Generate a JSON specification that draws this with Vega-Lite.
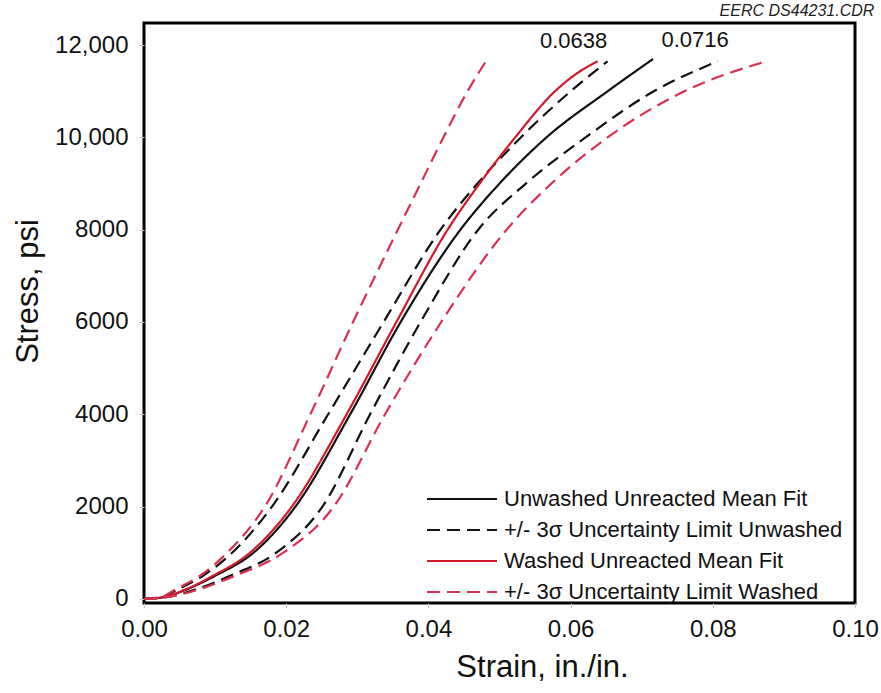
{
  "$schema": "https://vega.github.io/schema/vega-lite/v6.json",
  "autosize": {"type": "none"},
  "padding": {"left": 144, "top": 23, "right": 26, "bottom": 90},
  "width": 711,
  "height": 580,
  "background": "white",
  "title": {
    "text": "EERC DS44231.CDR",
    "anchor": "end",
    "orient": "top",
    "offset": 4,
    "dx": -4,
    "font": "Liberation Sans",
    "fontSize": 16,
    "fontStyle": "italic",
    "fontWeight": "normal",
    "color": "#222"
  },
  "config": {
    "view": {"stroke": "#000", "strokeWidth": 3},
    "font": "Liberation Sans"
  },
  "datasets": {
    "curves": [
      {"series": "Unwashed Unreacted Mean Fit", "curve": "BS", "strain": 0.0, "stress": 0},
      {"series": "Unwashed Unreacted Mean Fit", "curve": "BS", "strain": 0.0025, "stress": 30},
      {"series": "Unwashed Unreacted Mean Fit", "curve": "BS", "strain": 0.0059, "stress": 200},
      {"series": "Unwashed Unreacted Mean Fit", "curve": "BS", "strain": 0.0100, "stress": 500},
      {"series": "Unwashed Unreacted Mean Fit", "curve": "BS", "strain": 0.0154, "stress": 1000},
      {"series": "Unwashed Unreacted Mean Fit", "curve": "BS", "strain": 0.0213, "stress": 2000},
      {"series": "Unwashed Unreacted Mean Fit", "curve": "BS", "strain": 0.0290, "stress": 4000},
      {"series": "Unwashed Unreacted Mean Fit", "curve": "BS", "strain": 0.0361, "stress": 6000},
      {"series": "Unwashed Unreacted Mean Fit", "curve": "BS", "strain": 0.0445, "stress": 8000},
      {"series": "Unwashed Unreacted Mean Fit", "curve": "BS", "strain": 0.0500, "stress": 9000},
      {"series": "Unwashed Unreacted Mean Fit", "curve": "BS", "strain": 0.0566, "stress": 10000},
      {"series": "Unwashed Unreacted Mean Fit", "curve": "BS", "strain": 0.0652, "stress": 11000},
      {"series": "Unwashed Unreacted Mean Fit", "curve": "BS", "strain": 0.0716, "stress": 11700},

      {"series": "+/- 3σ Uncertainty Limit Unwashed", "curve": "BDU", "strain": 0.0, "stress": 0},
      {"series": "+/- 3σ Uncertainty Limit Unwashed", "curve": "BDU", "strain": 0.0023, "stress": 30},
      {"series": "+/- 3σ Uncertainty Limit Unwashed", "curve": "BDU", "strain": 0.0047, "stress": 200},
      {"series": "+/- 3σ Uncertainty Limit Unwashed", "curve": "BDU", "strain": 0.0083, "stress": 500},
      {"series": "+/- 3σ Uncertainty Limit Unwashed", "curve": "BDU", "strain": 0.0124, "stress": 1000},
      {"series": "+/- 3σ Uncertainty Limit Unwashed", "curve": "BDU", "strain": 0.0180, "stress": 2000},
      {"series": "+/- 3σ Uncertainty Limit Unwashed", "curve": "BDU", "strain": 0.0259, "stress": 4000},
      {"series": "+/- 3σ Uncertainty Limit Unwashed", "curve": "BDU", "strain": 0.0337, "stress": 6000},
      {"series": "+/- 3σ Uncertainty Limit Unwashed", "curve": "BDU", "strain": 0.0417, "stress": 8000},
      {"series": "+/- 3σ Uncertainty Limit Unwashed", "curve": "BDU", "strain": 0.0469, "stress": 9000},
      {"series": "+/- 3σ Uncertainty Limit Unwashed", "curve": "BDU", "strain": 0.0530, "stress": 10000},
      {"series": "+/- 3σ Uncertainty Limit Unwashed", "curve": "BDU", "strain": 0.0600, "stress": 11000},
      {"series": "+/- 3σ Uncertainty Limit Unwashed", "curve": "BDU", "strain": 0.0652, "stress": 11650},

      {"series": "+/- 3σ Uncertainty Limit Unwashed", "curve": "BDL", "strain": 0.0, "stress": 0},
      {"series": "+/- 3σ Uncertainty Limit Unwashed", "curve": "BDL", "strain": 0.0028, "stress": 30},
      {"series": "+/- 3σ Uncertainty Limit Unwashed", "curve": "BDL", "strain": 0.0072, "stress": 200},
      {"series": "+/- 3σ Uncertainty Limit Unwashed", "curve": "BDL", "strain": 0.0121, "stress": 500},
      {"series": "+/- 3σ Uncertainty Limit Unwashed", "curve": "BDL", "strain": 0.0186, "stress": 1000},
      {"series": "+/- 3σ Uncertainty Limit Unwashed", "curve": "BDL", "strain": 0.0251, "stress": 2000},
      {"series": "+/- 3σ Uncertainty Limit Unwashed", "curve": "BDL", "strain": 0.0318, "stress": 4000},
      {"series": "+/- 3σ Uncertainty Limit Unwashed", "curve": "BDL", "strain": 0.0389, "stress": 6000},
      {"series": "+/- 3σ Uncertainty Limit Unwashed", "curve": "BDL", "strain": 0.0470, "stress": 8000},
      {"series": "+/- 3σ Uncertainty Limit Unwashed", "curve": "BDL", "strain": 0.0537, "stress": 9000},
      {"series": "+/- 3σ Uncertainty Limit Unwashed", "curve": "BDL", "strain": 0.0621, "stress": 10000},
      {"series": "+/- 3σ Uncertainty Limit Unwashed", "curve": "BDL", "strain": 0.0717, "stress": 11000},
      {"series": "+/- 3σ Uncertainty Limit Unwashed", "curve": "BDL", "strain": 0.0807, "stress": 11650},

      {"series": "Washed Unreacted Mean Fit", "curve": "RS", "strain": 0.0, "stress": 0},
      {"series": "Washed Unreacted Mean Fit", "curve": "RS", "strain": 0.0025, "stress": 30},
      {"series": "Washed Unreacted Mean Fit", "curve": "RS", "strain": 0.0058, "stress": 200},
      {"series": "Washed Unreacted Mean Fit", "curve": "RS", "strain": 0.0097, "stress": 500},
      {"series": "Washed Unreacted Mean Fit", "curve": "RS", "strain": 0.0149, "stress": 1000},
      {"series": "Washed Unreacted Mean Fit", "curve": "RS", "strain": 0.0208, "stress": 2000},
      {"series": "Washed Unreacted Mean Fit", "curve": "RS", "strain": 0.0285, "stress": 4000},
      {"series": "Washed Unreacted Mean Fit", "curve": "RS", "strain": 0.0355, "stress": 6000},
      {"series": "Washed Unreacted Mean Fit", "curve": "RS", "strain": 0.0427, "stress": 8000},
      {"series": "Washed Unreacted Mean Fit", "curve": "RS", "strain": 0.0472, "stress": 9000},
      {"series": "Washed Unreacted Mean Fit", "curve": "RS", "strain": 0.0522, "stress": 10000},
      {"series": "Washed Unreacted Mean Fit", "curve": "RS", "strain": 0.0578, "stress": 11000},
      {"series": "Washed Unreacted Mean Fit", "curve": "RS", "strain": 0.0610, "stress": 11400},
      {"series": "Washed Unreacted Mean Fit", "curve": "RS", "strain": 0.0638, "stress": 11650},

      {"series": "+/- 3σ Uncertainty Limit Washed", "curve": "RDU", "strain": 0.0, "stress": 0},
      {"series": "+/- 3σ Uncertainty Limit Washed", "curve": "RDU", "strain": 0.0023, "stress": 30},
      {"series": "+/- 3σ Uncertainty Limit Washed", "curve": "RDU", "strain": 0.0044, "stress": 200},
      {"series": "+/- 3σ Uncertainty Limit Washed", "curve": "RDU", "strain": 0.0079, "stress": 500},
      {"series": "+/- 3σ Uncertainty Limit Washed", "curve": "RDU", "strain": 0.0117, "stress": 1000},
      {"series": "+/- 3σ Uncertainty Limit Washed", "curve": "RDU", "strain": 0.0170, "stress": 2000},
      {"series": "+/- 3σ Uncertainty Limit Washed", "curve": "RDU", "strain": 0.0234, "stress": 4000},
      {"series": "+/- 3σ Uncertainty Limit Washed", "curve": "RDU", "strain": 0.0294, "stress": 6000},
      {"series": "+/- 3σ Uncertainty Limit Washed", "curve": "RDU", "strain": 0.0357, "stress": 8000},
      {"series": "+/- 3σ Uncertainty Limit Washed", "curve": "RDU", "strain": 0.0389, "stress": 9000},
      {"series": "+/- 3σ Uncertainty Limit Washed", "curve": "RDU", "strain": 0.0421, "stress": 10000},
      {"series": "+/- 3σ Uncertainty Limit Washed", "curve": "RDU", "strain": 0.0455, "stress": 11000},
      {"series": "+/- 3σ Uncertainty Limit Washed", "curve": "RDU", "strain": 0.0483, "stress": 11700},

      {"series": "+/- 3σ Uncertainty Limit Washed", "curve": "RDL", "strain": 0.0, "stress": 0},
      {"series": "+/- 3σ Uncertainty Limit Washed", "curve": "RDL", "strain": 0.0029, "stress": 30},
      {"series": "+/- 3σ Uncertainty Limit Washed", "curve": "RDL", "strain": 0.0076, "stress": 200},
      {"series": "+/- 3σ Uncertainty Limit Washed", "curve": "RDL", "strain": 0.0128, "stress": 500},
      {"series": "+/- 3σ Uncertainty Limit Washed", "curve": "RDL", "strain": 0.0196, "stress": 1000},
      {"series": "+/- 3σ Uncertainty Limit Washed", "curve": "RDL", "strain": 0.0267, "stress": 2000},
      {"series": "+/- 3σ Uncertainty Limit Washed", "curve": "RDL", "strain": 0.0339, "stress": 4000},
      {"series": "+/- 3σ Uncertainty Limit Washed", "curve": "RDL", "strain": 0.0418, "stress": 6000},
      {"series": "+/- 3σ Uncertainty Limit Washed", "curve": "RDL", "strain": 0.0510, "stress": 8000},
      {"series": "+/- 3σ Uncertainty Limit Washed", "curve": "RDL", "strain": 0.0573, "stress": 9000},
      {"series": "+/- 3σ Uncertainty Limit Washed", "curve": "RDL", "strain": 0.0652, "stress": 10000},
      {"series": "+/- 3σ Uncertainty Limit Washed", "curve": "RDL", "strain": 0.0760, "stress": 11000},
      {"series": "+/- 3σ Uncertainty Limit Washed", "curve": "RDL", "strain": 0.0875, "stress": 11650}
    ],
    "ends": [
      {"label": "0.0638", "strain": 0.0638, "stress": 11650},
      {"label": "0.0716", "strain": 0.0716, "stress": 11700}
    ]
  },
  "layer": [
    {
      "data": {"name": "curves"},
      "mark": {"type": "line", "strokeWidth": 2.2, "interpolate": "monotone"},
      "encoding": {
        "x": {
          "field": "strain", "type": "quantitative",
          "scale": {"domain": [0, 0.1], "nice": false, "zero": false},
          "axis": {
            "title": "Strain, in./in.",
            "values": [0, 0.02, 0.04, 0.06, 0.08, 0.1],
            "format": ".2f",
            "grid": false, "domain": false,
            "tickColor": "#c8c8c8", "tickSize": 5,
            "labelFont": "Liberation Sans", "labelFontSize": 24, "labelColor": "#111",
            "labelPadding": 9, "labelFlush": false,
            "titleFont": "Liberation Sans", "titleFontSize": 31, "titleFontWeight": "normal",
            "titleColor": "#111",
            "titleX": 398, "titleY": 73, "titleBaseline": "alphabetic", "titleAlign": "center"
          }
        },
        "y": {
          "field": "stress", "type": "quantitative",
          "scale": {"domain": [-90, 12480], "nice": false, "zero": false},
          "axis": {
            "title": "Stress, psi",
            "values": [0, 2000, 4000, 6000, 8000, 10000, 12000],
            "labelExpr": "datum.value >= 10000 ? format(datum.value, ',') : format(datum.value, 'd')",
            "grid": false, "domain": false,
            "tickColor": "#c8c8c8", "tickSize": 5,
            "labelFont": "Liberation Sans", "labelFontSize": 24, "labelColor": "#111",
            "labelPadding": 11,
            "titleFont": "Liberation Sans", "titleFontSize": 31, "titleFontWeight": "normal",
            "titleColor": "#111",
            "titleX": -107, "titleY": 268, "titleAngle": 270, "titleBaseline": "alphabetic", "titleAlign": "center"
          }
        },
        "detail": {"field": "curve"},
        "color": {
          "field": "series", "type": "nominal",
          "scale": {
            "domain": ["Unwashed Unreacted Mean Fit", "+/- 3σ Uncertainty Limit Unwashed", "Washed Unreacted Mean Fit", "+/- 3σ Uncertainty Limit Washed"],
            "range": ["#111111", "#111111", "#d2182b", "#d9304f"]
          },
          "legend": {
            "title": null,
            "orient": "none",
            "legendX": 307,
            "legendY": 465,
            "padding": 0,
            "symbolType": "M-5,0H5",
            "symbolSize": 196,
            "symbolStrokeWidth": 2.2,
            "rowPadding": 9,
            "labelOffset": 31,
            "labelFont": "Liberation Sans",
            "labelFontSize": 22,
            "labelColor": "#111",
            "labelLimit": 600
          }
        },
        "strokeDash": {
          "field": "series", "type": "nominal",
          "scale": {
            "domain": ["Unwashed Unreacted Mean Fit", "+/- 3σ Uncertainty Limit Unwashed", "Washed Unreacted Mean Fit", "+/- 3σ Uncertainty Limit Washed"],
            "range": [[1, 0], [13, 7], [1, 0], [13, 7]]
          },
          "legend": {
            "title": null,
            "orient": "none",
            "legendX": 307,
            "legendY": 465,
            "padding": 0,
            "symbolType": "M-5,0H5",
            "symbolSize": 196,
            "symbolStrokeWidth": 2.2,
            "rowPadding": 9,
            "labelOffset": 31,
            "labelFont": "Liberation Sans",
            "labelFontSize": 22,
            "labelColor": "#111",
            "labelLimit": 600
          }
        }
      }
    },
    {
      "data": {"name": "ends"},
      "transform": [{"filter": "datum.label == '0.0638'"}],
      "mark": {"type": "text", "font": "Liberation Sans", "fontSize": 22, "color": "#111", "dx": -24, "dy": -20},
      "encoding": {
        "x": {"field": "strain", "type": "quantitative"},
        "y": {"field": "stress", "type": "quantitative"},
        "text": {"field": "label"}
      }
    },
    {
      "data": {"name": "ends"},
      "transform": [{"filter": "datum.label == '0.0716'"}],
      "mark": {"type": "text", "font": "Liberation Sans", "fontSize": 22, "color": "#111", "dx": 42, "dy": -19},
      "encoding": {
        "x": {"field": "strain", "type": "quantitative"},
        "y": {"field": "stress", "type": "quantitative"},
        "text": {"field": "label"}
      }
    }
  ]
}
